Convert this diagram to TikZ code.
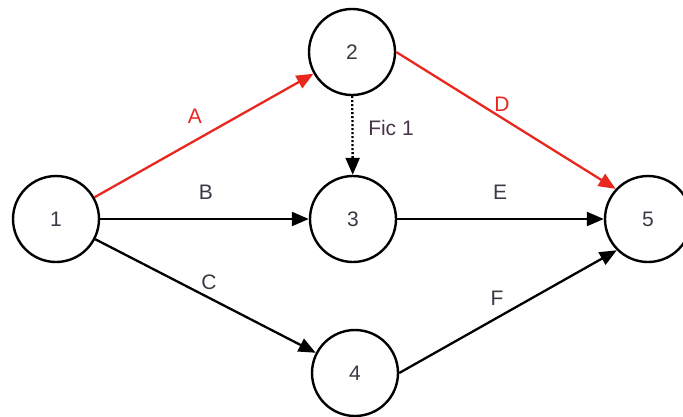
\documentclass[tikz,border=0pt]{standalone}
\usepackage{fontspec}
\setmainfont{Liberation Sans}
\usetikzlibrary{arrows.meta}
\definecolor{cpmred}{HTML}{E8281E}
\definecolor{numgray}{HTML}{3A3A46}
\definecolor{ficcol}{HTML}{4A3448}
\tikzset{
  event/.style={circle, draw=black, line width=2.4pt, minimum size=86pt, inner sep=0pt, font=\fontsize{21}{24}\selectfont, text=numgray},
  act/.style={line width=2.3pt, -{Triangle[length=17pt,width=14pt]}},
  crit/.style={act, draw=cpmred},
  dummy/.style={line width=2.3pt, dash pattern=on 2pt off 2pt, -{Triangle[length=17pt,width=14pt]}},
  lbl/.style={font=\fontsize{21}{24}\selectfont, text=numgray, inner sep=0pt},
  clbl/.style={lbl, text=cpmred}
}
\begin{document}
\begin{tikzpicture}[x=1pt,y=-1pt]
\useasboundingbox (0,0) rectangle (683,416);
\fill[white] (0,0) rectangle (683,416);
\clip (0,0) rectangle (683,416);
\node[event] (n1) at (56,219) {1};
\node[event] (n2) at (352,52) {2};
\node[event] (n3) at (353,219) {3};
\node[event] (n4) at (355,373) {4};
\node[event] (n5) at (648,219) {5};
\draw[crit] (n1) -- (n2);
\draw[act] (n1) -- (n3);
\draw[act] (n1) -- (n4);
\draw[crit] (n2.east) -- (n5.137);
\draw[act] (n3) -- (n5);
\draw[act] (n4.east) -- (n5.225);
\draw[dummy] (n2) -- (n3);
\node[clbl] (la) at (195,116) {A};
\node[lbl] (lb) at (206,192) {B};
\node[lbl] (lc) at (209,282) {C};
\node[clbl] (ld) at (502,104) {D};
\node[lbl] (le) at (500,192) {E};
\node[lbl] (lf) at (497,298) {F};
\node[lbl, text=ficcol] (lfic) at (391,128) {Fic 1};
\end{tikzpicture}
\end{document}
